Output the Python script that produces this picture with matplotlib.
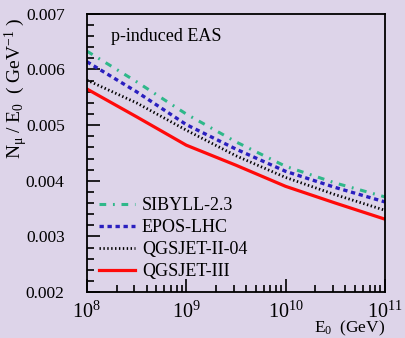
import matplotlib
matplotlib.use("Agg")
import matplotlib.pyplot as plt
from matplotlib.ticker import LogLocator, MultipleLocator, NullFormatter, FixedLocator
import numpy as np

# Data
log_e0 = [8.0, 8.5, 9.0, 9.5, 10.0, 10.5, 11.0]
sibyll = [0.00633, 0.00578, 0.00520, 0.00470, 0.00426, 0.00396, 0.00371]
epos = [0.00614, 0.00560, 0.00501, 0.00457, 0.00417, 0.00388, 0.00362]
qgsjet2 = [0.00581, 0.00540, 0.00491, 0.00445, 0.00406, 0.00375, 0.00347]
qgsjet3 = [0.00565, 0.00515, 0.00464, 0.00428, 0.00390, 0.00360, 0.00331]
labels = ["SIBYLL-2.3", "EPOS-LHC", "QGSJET-II-04", "QGSJET-III"]
xtick_vals = [1e8, 1e9, 1e10, 1e11]
xtick_labels = [r"$\mathregular{10^{8}}$", r"$\mathregular{10^{9}}$",
                r"$\mathregular{10^{10}}$", r"$\mathregular{10^{11}}$"]
ytick_vals = [0.002, 0.003, 0.004, 0.005, 0.006, 0.007]
ytick_labels = ["0.002", "0.003", "0.004", "0.005", "0.006", "0.007"]

plt.rcParams["font.family"] = ["Liberation Serif", "DejaVu Serif"]
plt.rcParams["mathtext.fontset"] = "stix"

bg = "#ddd4e9"
fig = plt.figure(figsize=(4.06, 3.38), dpi=100, facecolor=bg)
ax = fig.add_axes([0.214, 0.136, 0.734, 0.823])
ax.set_facecolor(bg)

e0 = [10 ** v for v in log_e0]
ax.plot(e0, sibyll, color="#2fb88a", lw=2.2, ls=(0, (2.2, 2.2, 0.6, 2.2)), label=labels[0])
ax.plot(e0, epos, color="#2a1fbf", lw=2.4, ls=(0, (1.3, 1.1)), label=labels[1])
ax.plot(e0, qgsjet2, color="black", lw=2.0, ls=(0, (0.5, 0.9)), label=labels[2])
ax.plot(e0, qgsjet3, color="#ff0a0a", lw=2.3, ls="-", label=labels[3])

ax.set_xscale("log")
ax.set_xlim(1e8, 1e11)
ax.set_ylim(0.002, 0.007)

ax.xaxis.set_major_locator(FixedLocator(xtick_vals))
ax.set_xticklabels(xtick_labels, fontsize=14.5)
ax.xaxis.set_minor_locator(LogLocator(base=10, subs=np.arange(2, 10)))
ax.xaxis.set_minor_formatter(NullFormatter())
ax.set_yticks(ytick_vals)
ax.set_yticklabels(ytick_labels, fontsize=12.5)
ax.yaxis.set_minor_locator(MultipleLocator(0.0002))

ax.tick_params(which="both", direction="in", top=False, right=False, width=1.2, color="black")
ax.tick_params(which="major", length=9.5)
ax.tick_params(which="minor", length=5)
ax.tick_params(axis="x", which="major", pad=7)
ax.tick_params(axis="y", which="major", pad=16)
for s in ax.spines.values():
    s.set_linewidth(1.3)

ax.set_xlabel(r"$\mathregular{E_{0}\ \ (GeV)}$", fontsize=12.5, ha="right", x=1.0, labelpad=-3)
fig.text(16 / 406, 1 - 18 / 338, r"$\mathregular{N_{\mu}\ /\ E_{0}\ \ (\ GeV^{-1}\ )}$",
         fontsize=14, rotation=90, ha="center", va="top")

ax.text(0.08, 0.92, "p-induced EAS", transform=ax.transAxes, fontsize=13, va="center", ha="left")

leg = ax.legend(loc="lower left", bbox_to_anchor=(0.0, 0.0), frameon=False, fontsize=13,
                handlelength=2.0, handletextpad=0.4, labelspacing=0.28, borderaxespad=0.3,
                borderpad=0.35)

fig.savefig("out.png", dpi=100, facecolor=bg)
